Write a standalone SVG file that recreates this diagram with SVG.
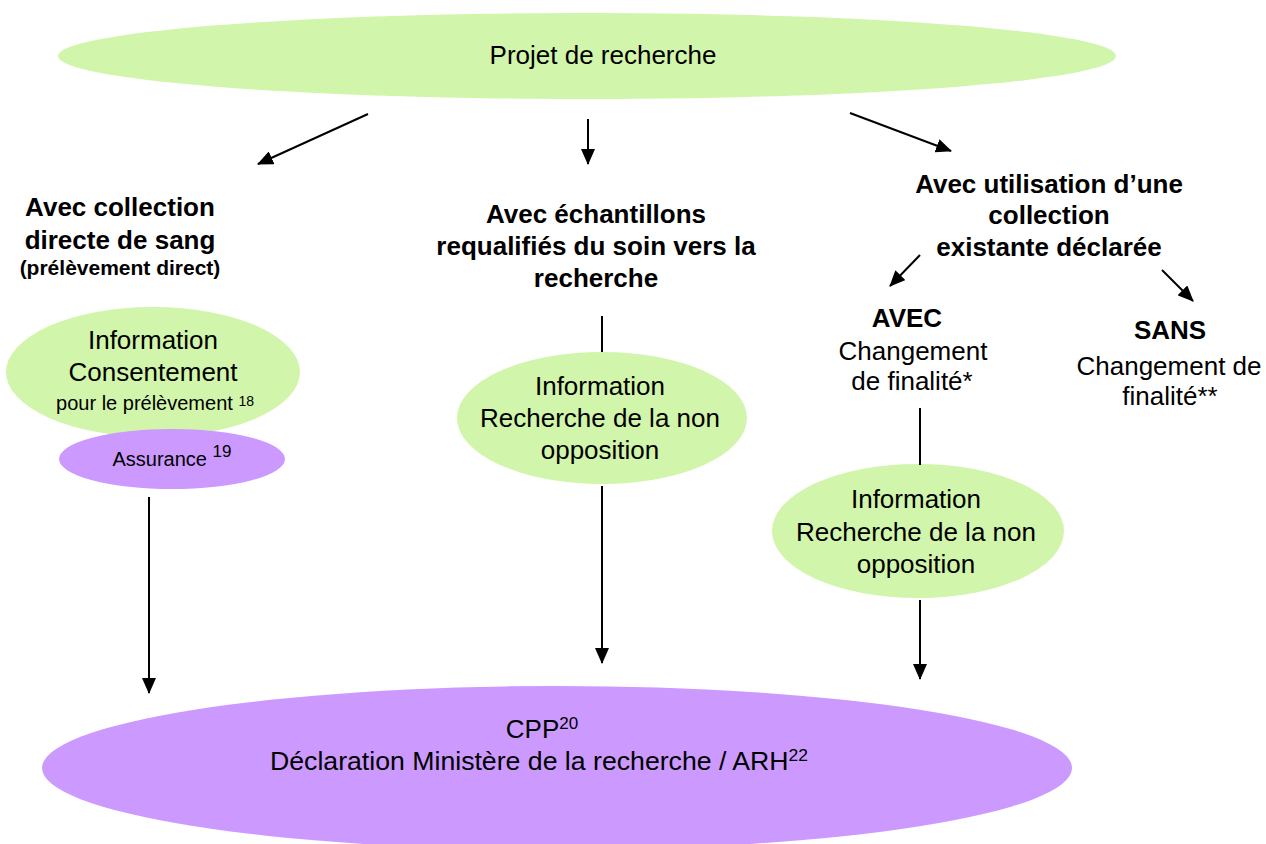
<svg xmlns="http://www.w3.org/2000/svg" width="1266" height="844" viewBox="0 0 1266 844">
<defs>
<marker id="arr" markerUnits="userSpaceOnUse" markerWidth="16" markerHeight="14" refX="15" refY="7" orient="auto">
<path d="M0,0 L16,7 L0,14 Z" fill="#000"/>
</marker>
<style>
text{font-family:"Liberation Sans",Arial,sans-serif;fill:#000;text-anchor:middle}
.h{font-weight:bold;font-size:26px}
.n{font-size:26px}
.s{font-size:20px}
.g{fill:#d1f5aa}
.p{fill:#cc99ff}
.c{stroke:#000;stroke-width:2;fill:none}
</style>
</defs>
<g id="n-projet"><ellipse class="g" cx="587" cy="56" rx="529" ry="43"/><text class="n" x="603" y="64">Projet de recherche</text></g>
<g id="n-cpp"><ellipse class="p" cx="557" cy="768" rx="515" ry="82"/>
<text font-size="26" x="542" y="738">CPP<tspan font-size="17" dy="-9">20</tspan></text>
<text font-size="26" x="539" y="770" textLength="538" lengthAdjust="spacingAndGlyphs">Déclaration Ministère de la recherche / ARH<tspan font-size="17" dy="-9">22</tspan></text></g>
<g id="n-directe"><text class="h" x="120" y="216">Avec collection</text><text class="h" x="120" y="249">directe de sang</text><text x="120" y="275" font-weight="bold" font-size="21">(prélèvement direct)</text></g>
<g id="n-info1"><ellipse class="g" cx="153" cy="372" rx="147" ry="65"/>
<text class="n" x="153" y="349">Information</text><text class="n" x="153" y="381">Consentement</text><text class="s" x="155" y="410">pour le prélèvement <tspan font-size="14" dy="-4">18</tspan></text></g>
<g id="n-assurance"><ellipse class="p" cx="172" cy="459" rx="113" ry="30"/><text class="s" x="172" y="466">Assurance <tspan font-size="17" dy="-9">19</tspan></text></g>
<g id="n-requal"><text class="h" x="596" y="223">Avec échantillons</text><text class="h" x="596" y="255">requalifiés du soin vers la</text><text class="h" x="596" y="287">recherche</text></g>
<g id="n-info2"><ellipse class="g" cx="602" cy="418" rx="145" ry="66"/>
<text class="n" x="600" y="395">Information</text><text class="n" x="600" y="427">Recherche de la non</text><text class="n" x="600" y="459">opposition</text></g>
<g id="n-existante"><text class="h" x="1049" y="193">Avec utilisation d’une</text><text class="h" x="1049" y="224">collection</text><text class="h" x="1049" y="256">existante déclarée</text></g>
<g id="n-avec"><text class="h" x="907" y="327">AVEC</text><text class="n" x="913" y="360">Changement</text><text class="n" x="912" y="390">de finalité*</text></g>
<g id="n-sans"><text class="h" x="1170" y="339">SANS</text><text class="n" x="1169" y="375">Changement de</text><text class="n" x="1170" y="405">finalité**</text></g>
<g id="n-info3"><ellipse class="g" cx="918" cy="531" rx="146" ry="67"/>
<text class="n" x="916" y="508">Information</text><text class="n" x="916" y="541">Recherche de la non</text><text class="n" x="916" y="573">opposition</text></g>
<g id="connectors">
<line class="c" x1="368" y1="114" x2="258" y2="164" marker-end="url(#arr)"/>
<line class="c" x1="588" y1="119" x2="588" y2="164" marker-end="url(#arr)"/>
<line class="c" x1="850" y1="113" x2="951" y2="151" marker-end="url(#arr)"/>
<line class="c" x1="920" y1="255" x2="890" y2="286" marker-end="url(#arr)"/>
<line class="c" x1="1162" y1="270" x2="1193" y2="301" marker-end="url(#arr)"/>
<line class="c" x1="149" y1="497" x2="149" y2="693" marker-end="url(#arr)"/>
<line class="c" x1="602" y1="316" x2="602" y2="352"/>
<line class="c" x1="602" y1="486" x2="602" y2="663" marker-end="url(#arr)"/>
<line class="c" x1="920" y1="408" x2="920" y2="465"/>
<line class="c" x1="920" y1="600" x2="920" y2="679" marker-end="url(#arr)"/>
</g>
</svg>
